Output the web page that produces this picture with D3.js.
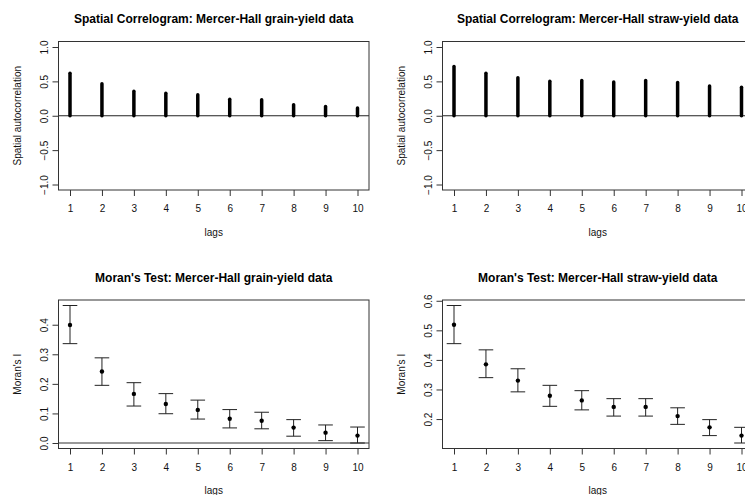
<!DOCTYPE html>
<html>
<head>
<meta charset="utf-8">
<script src="https://cdn.jsdelivr.net/npm/d3@7"></script>
<style>
  body { margin: 0; background: #fff; }
  svg { display: block; font-family: "Liberation Sans", Arial, sans-serif; }
</style>
</head>
<body>
<div id="chart"></div>
<script>
// lags shared by all four panels
var lags = [1, 2, 3, 4, 5, 6, 7, 8, 9, 10];
var yTicksCorr = [-1, -0.5, 0, 0.5, 1];

// correlogram values
var grainCorr = [0.62, 0.467, 0.357, 0.328, 0.304, 0.241, 0.231, 0.159, 0.135, 0.111];
var strawCorr = [0.718, 0.617, 0.554, 0.501, 0.511, 0.492, 0.511, 0.482, 0.434, 0.414];

// Moran's I with interval ends
var grainMoran = [0.399, 0.242, 0.166, 0.132, 0.112, 0.082, 0.075, 0.052, 0.035, 0.025];
var grainLower = [0.336, 0.195, 0.125, 0.099, 0.081, 0.051, 0.048, 0.023, 0.008, 0.0];
var grainUpper = [0.465, 0.288, 0.204, 0.167, 0.145, 0.113, 0.104, 0.079, 0.061, 0.054];
var yTicksGrain = [0, 0.1, 0.2, 0.3, 0.4];

var strawMoran = [0.519, 0.385, 0.330, 0.279, 0.263, 0.241, 0.241, 0.210, 0.172, 0.144];
var strawLower = [0.455, 0.340, 0.292, 0.243, 0.231, 0.210, 0.210, 0.182, 0.144, 0.119];
var strawUpper = [0.584, 0.434, 0.370, 0.314, 0.296, 0.269, 0.269, 0.238, 0.198, 0.172];
var yTicksStraw = [0.2, 0.3, 0.4, 0.5, 0.6];

var svg = d3.select("#chart").append("svg")
    .attr("width", 745)
    .attr("height", 495);

var panelW = 310.5, panelH = 148.5, dx = 384;

function pad(lo, hi) {
    var p = (hi - lo) * 0.04;
    return [lo - p, hi + p];
}

function panel(ox, oy, title, ylab, ydomain, yticks) {
    var g = svg.append("g").attr("transform", "translate(" + ox + "," + oy + ")");
    var x = d3.scaleLinear().domain(pad(1, 10)).range([0, panelW]);
    var y = d3.scaleLinear().domain(ydomain).range([panelH, 0]);

    g.append("text")
        .attr("x", panelW / 2).attr("y", -18.5)
        .attr("text-anchor", "middle")
        .style("font-size", "12px").style("font-weight", "bold")
        .text(title);

    var xa = g.append("g").attr("transform", "translate(0," + panelH + ")")
        .call(d3.axisBottom(x).tickValues(lags).tickSize(6).tickSizeOuter(0).tickPadding(9));
    xa.select(".domain").remove();
    xa.selectAll("line").attr("stroke", "#333");
    xa.selectAll("text").style("font-size", "10px").attr("fill", "#111");

    var ya = g.append("g")
        .call(d3.axisLeft(y).tickValues(yticks).tickSize(6).tickSizeOuter(0).tickFormat(d3.format(".1f")));
    ya.select(".domain").remove();
    ya.selectAll("line").attr("stroke", "#333");
    ya.selectAll("text")
        .attr("x", null).attr("dy", null)
        .attr("transform", function(d) { return "translate(-11," + 0 + ") rotate(-90)"; })
        .attr("text-anchor", "middle")
        .style("font-size", "10px").attr("fill", "#111");

    g.append("text")
        .attr("transform", "translate(-37.5," + panelH / 2 + ") rotate(-90)")
        .attr("text-anchor", "middle")
        .style("font-size", "10px").attr("fill", "#111")
        .text(ylab);

    g.append("text")
        .attr("x", panelW / 2).attr("y", panelH + 45.5)
        .attr("text-anchor", "middle")
        .style("font-size", "10px").attr("fill", "#111")
        .text("lags");

    return {g: g, x: x, y: y};
}

function box(p) {
    p.g.append("rect")
        .attr("width", panelW).attr("height", panelH)
        .attr("fill", "none").attr("stroke", "#333").attr("stroke-width", 1);
}

function correlogram(ox, oy, title, values) {
    var p = panel(ox, oy, title, "Spatial autocorrelation", pad(-1, 1), yTicksCorr);
    p.g.append("line")
        .attr("x1", 0).attr("x2", panelW)
        .attr("y1", p.y(0)).attr("y2", p.y(0))
        .attr("stroke", "#222");
    p.g.selectAll(".bar").data(values).enter().append("line")
        .attr("class", "bar")
        .attr("x1", function(d, i) { return p.x(lags[i]); })
        .attr("x2", function(d, i) { return p.x(lags[i]); })
        .attr("y1", p.y(0))
        .attr("y2", function(d) { return p.y(d); })
        .attr("stroke", "#000").attr("stroke-width", 3.5)
        .attr("stroke-linecap", "round");
    box(p);
}

function moran(ox, oy, title, est, lo, hi, yticks) {
    var p = panel(ox, oy, title, "Moran's I", pad(d3.min(lo), d3.max(hi)), yticks);
    var y0 = p.y(0);
    if (y0 >= 0 && y0 <= panelH) {
        p.g.append("line")
            .attr("x1", 0).attr("x2", panelW)
            .attr("y1", y0).attr("y2", y0)
            .attr("stroke", "#999").attr("stroke-width", 2);
    }
    var bars = p.g.selectAll(".eb").data(est).enter().append("g").attr("class", "eb")
        .attr("stroke", "#222").attr("stroke-width", 1);
    bars.append("line")
        .attr("x1", function(d, i) { return p.x(lags[i]); })
        .attr("x2", function(d, i) { return p.x(lags[i]); })
        .attr("y1", function(d, i) { return p.y(lo[i]); })
        .attr("y2", function(d, i) { return p.y(hi[i]); });
    [lo, hi].forEach(function(arr) {
        bars.append("line")
            .attr("x1", function(d, i) { return p.x(lags[i]) - 7.3; })
            .attr("x2", function(d, i) { return p.x(lags[i]) + 7.3; })
            .attr("y1", function(d, i) { return p.y(arr[i]); })
            .attr("y2", function(d, i) { return p.y(arr[i]); });
    });
    p.g.selectAll(".pt").data(est).enter().append("circle")
        .attr("class", "pt")
        .attr("cx", function(d, i) { return p.x(lags[i]); })
        .attr("cy", function(d) { return p.y(d); })
        .attr("r", 2.2).attr("fill", "#000");
    box(p);
}

correlogram(58.5, 41.5, "Spatial Correlogram: Mercer-Hall grain-yield data", grainCorr);
correlogram(58.5 + dx, 41.5, "Spatial Correlogram: Mercer-Hall straw-yield data", strawCorr);
moran(58.5, 300, "Moran's Test: Mercer-Hall grain-yield data", grainMoran, grainLower, grainUpper, yTicksGrain);
moran(58.5 + dx, 300, "Moran's Test: Mercer-Hall straw-yield data", strawMoran, strawLower, strawUpper, yTicksStraw);
</script>
</body>
</html>
